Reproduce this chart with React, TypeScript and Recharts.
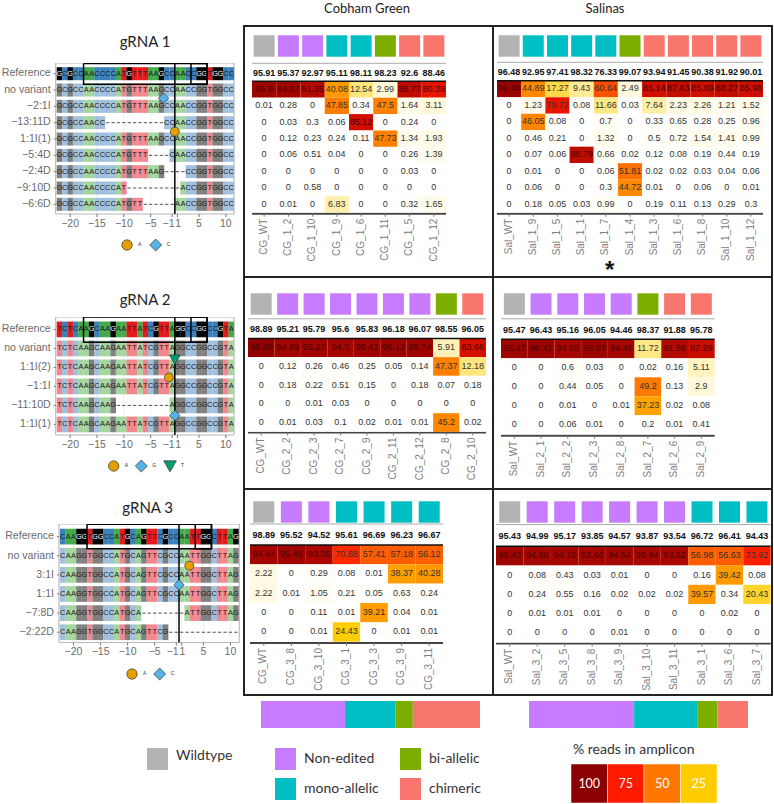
import {
  ScatterChart,
  Scatter,
  XAxis,
  YAxis,
  ReferenceLine,
  ReferenceArea,
  CartesianGrid,
  BarChart,
  Bar,
  LabelList,
} from 'recharts';

// ---- colours
const KIND_COLOR: { [k: string]: string } = {
  wt: '#b3b3b3',
  ne: '#c77cff',
  mono: '#00bfc4',
  bi: '#7cae00',
  chim: '#f8766d',
};
const BASE_REF: { [k: string]: string } = { A: '#45aa4c', C: '#3a80ba', G: '#000000', T: '#e41a1c' };
const BASE_ALT: { [k: string]: string } = { A: '#a5d6a0', C: '#a0c0de', G: '#808080', T: '#f2888f' };
const HEAT_STOPS: [number, number[]][] = [
  [0, [255, 255, 255]],
  [1, [255, 253, 242]],
  [5, [255, 243, 192]],
  [12, [255, 230, 128]],
  [25, [255, 204, 0]],
  [50, [255, 119, 0]],
  [75, [255, 26, 0]],
  [100, [139, 0, 0]],
];

// ---- gRNA 1
const g1Ref = 'GCGCCAACCCCATGTTTAAGCCAACCGGTGGCC';
const g1Labels = ['Reference', 'no variant', '−2:1I', '−13:11D', '1:1I(1)', '−5:4D', '−2:4D', '−9:10D', '−6:6D'];
const g1Seqs = [
  g1Ref,
  g1Ref,
  g1Ref,
  'GCGCCAACC-----------CCAACCGGTGGCC',
  g1Ref,
  'GCGCCAACCCCATGTTT----CAACCGGTGGCC',
  'GCGCCAACCCCATGTTTAAG----CCGGTGGCC',
  'GCGCCAACCCCAT----------ACCGGTGGCC',
  'GCGCCAACCCCATGTT------AACCGGTGGCC',
];
const g1Ins = [
  { col: 19.4, row: 1.5, base: 'C' },
  { col: 21.5, row: 3.55, base: 'A' },
];
const g1Keys = ['A', 'C'];

const cg1Samples = ['CG_WT', 'CG_1_2', 'CG_1_10', 'CG_1_9', 'CG_1_6', 'CG_1_11', 'CG_1_5', 'CG_1_12'];
const cg1Kinds = ['wt', 'ne', 'ne', 'mono', 'mono', 'bi', 'chim', 'chim'];
const cg1Totals = [95.91, 95.37, 92.97, 95.11, 98.11, 98.23, 92.6, 88.46];
const cg1Values = [
  [95.9, 94.87, 91.35, 40.08, 12.54, 2.99, 88.77, 80.38],
  [0.01, 0.28, 0, 47.85, 0.34, 47.5, 1.64, 3.11],
  [0, 0.03, 0.3, 0.06, 85.12, 0, 0.24, 0],
  [0, 0.12, 0.23, 0.24, 0.11, 47.73, 1.34, 1.93],
  [0, 0.06, 0.51, 0.04, 0, 0, 0.26, 1.39],
  [0, 0, 0, 0, 0, 0, 0.03, 0],
  [0, 0, 0.58, 0, 0, 0, 0, 0],
  [0, 0.01, 0, 6.83, 0, 0, 0.32, 1.65],
];

const sal1Samples = ['Sal_WT', 'Sal_1_9', 'Sal_1_5', 'Sal_1_1', 'Sal_1_7', 'Sal_1_4', 'Sal_1_3', 'Sal_1_6', 'Sal_1_8', 'Sal_1_10', 'Sal_1_12'];
const sal1Kinds = ['wt', 'mono', 'mono', 'mono', 'mono', 'bi', 'chim', 'chim', 'chim', 'chim', 'chim'];
const sal1Totals = [96.48, 92.95, 97.41, 98.32, 76.33, 99.07, 93.94, 91.45, 90.38, 91.92, 90.01];
const sal1Values = [
  [96.48, 44.89, 17.27, 9.43, 60.64, 2.49, 85.14, 87.63, 85.89, 88.27, 85.98],
  [0, 1.23, 79.72, 0.08, 11.66, 0.03, 7.64, 2.23, 2.26, 1.21, 1.52],
  [0, 46.05, 0.08, 0, 0.7, 0, 0.33, 0.65, 0.28, 0.25, 0.96],
  [0, 0.46, 0.21, 0, 1.32, 0, 0.5, 0.72, 1.54, 1.41, 0.99],
  [0, 0.07, 0.06, 88.78, 0.66, 0.02, 0.12, 0.08, 0.19, 0.44, 0.19],
  [0, 0.01, 0, 0, 0.06, 51.81, 0.02, 0.02, 0.03, 0.04, 0.06],
  [0, 0.06, 0, 0, 0.3, 44.72, 0.01, 0, 0.06, 0, 0.01],
  [0, 0.18, 0.05, 0.03, 0.99, 0, 0.19, 0.11, 0.13, 0.29, 0.3],
];

// ---- gRNA 2
const g2Ref = 'TCTCAAGCAAGAATTATCGTTAGGCCGGCCGTA';
const g2Labels = ['Reference', 'no variant', '1:1I(2)', '−1:1I', '−11:10D', '1:1I(1)'];
const g2Seqs = [g2Ref, g2Ref, g2Ref, g2Ref, 'TCTCAAGCAAG----------AGGCCGGCCGTA', g2Ref];
const g2Ins = [
  { col: 21.5, row: 1.58, base: 'T' },
  { col: 20.4, row: 2.53, base: 'A' },
  { col: 21.5, row: 4.53, base: 'G' },
];
const g2Keys = ['A', 'G', 'T'];

const cg2Samples = ['CG_WT', 'CG_2_2', 'CG_2_3', 'CG_2_7', 'CG_2_9', 'CG_2_11', 'CG_2_12', 'CG_2_8', 'CG_2_10'];
const cg2Kinds = ['wt', 'ne', 'ne', 'ne', 'ne', 'ne', 'ne', 'bi', 'chim'];
const cg2Totals = [98.89, 95.21, 95.79, 95.6, 95.83, 96.18, 96.07, 98.55, 96.05];
const cg2Values = [
  [98.89, 94.89, 95.27, 94.5, 95.41, 96.12, 95.74, 5.91, 83.66],
  [0, 0.12, 0.26, 0.46, 0.25, 0.05, 0.14, 47.37, 12.18],
  [0, 0.18, 0.22, 0.51, 0.15, 0, 0.18, 0.07, 0.18],
  [0, 0, 0.01, 0.03, 0, 0, 0, 0, 0],
  [0, 0.01, 0.03, 0.1, 0.02, 0.01, 0.01, 45.2, 0.02],
];

const sal2Samples = ['Sal_WT', 'Sal_2_1', 'Sal_2_2', 'Sal_2_3', 'Sal_2_8', 'Sal_2_7', 'Sal_2_6', 'Sal_2_9'];
const sal2Kinds = ['wt', 'ne', 'ne', 'ne', 'ne', 'bi', 'chim', 'chim'];
const sal2Totals = [95.47, 96.43, 95.16, 96.05, 94.46, 98.37, 91.88, 95.78];
const sal2Values = [
  [95.47, 96.42, 94.05, 95.97, 94.45, 11.72, 91.56, 87.29],
  [0, 0, 0.6, 0.03, 0, 0.02, 0.16, 5.11],
  [0, 0, 0.44, 0.05, 0, 49.2, 0.13, 2.9],
  [0, 0, 0.01, 0, 0.01, 37.23, 0.02, 0.08],
  [0, 0, 0.06, 0.01, 0, 0.2, 0.01, 0.41],
];

// ---- gRNA 3
const g3Ref = 'CAAGGTGGCCATGCAGTTCGCCAATTGGCTTAG';
const g3Labels = ['Reference', 'no variant', '3:1I', '1:1I', '−7:8D', '−2:22D'];
const g3Seqs = [
  g3Ref,
  g3Ref,
  g3Ref,
  g3Ref,
  'CAAGGTGGCCATGCA--------ATTGGCTTAG',
  'CAAGGTGGCCATGCAGTTCG-------------',
];
const g3Ins = [
  { col: 23.4, row: 1.52, base: 'A' },
  { col: 21.5, row: 2.53, base: 'C' },
];
const g3Keys = ['A', 'C'];

const cg3Samples = ['CG_WT', 'CG_3_8', 'CG_3_10', 'CG_3_1', 'CG_3_3', 'CG_3_9', 'CG_3_11'];
const cg3Kinds = ['wt', 'ne', 'ne', 'mono', 'mono', 'mono', 'mono'];
const cg3Totals = [98.89, 95.52, 94.52, 95.61, 96.69, 96.23, 96.67];
const cg3Values = [
  [94.44, 95.49, 93.05, 70.88, 57.41, 57.18, 56.12],
  [2.22, 0, 0.29, 0.08, 0.01, 38.37, 40.28],
  [2.22, 0.01, 1.05, 0.21, 0.05, 0.63, 0.24],
  [0, 0, 0.11, 0.01, 39.21, 0.04, 0.01],
  [0, 0, 0.01, 24.43, 0, 0.01, 0.01],
];

const sal3Samples = ['Sal_WT', 'Sal_3_2', 'Sal_3_5', 'Sal_3_8', 'Sal_3_9', 'Sal_3_10', 'Sal_3_11', 'Sal_3_1', 'Sal_3_6', 'Sal_3_7'];
const sal3Kinds = ['wt', 'ne', 'ne', 'ne', 'ne', 'ne', 'ne', 'mono', 'mono', 'mono'];
const sal3Totals = [95.43, 94.99, 95.17, 93.85, 94.57, 93.87, 93.54, 96.72, 96.41, 94.43];
const sal3Values = [
  [95.43, 94.66, 94.19, 93.66, 94.54, 93.84, 93.52, 56.98, 56.63, 73.92],
  [0, 0.08, 0.43, 0.03, 0.01, 0, 0, 0.16, 39.42, 0.08],
  [0, 0.24, 0.55, 0.16, 0.02, 0.02, 0.02, 39.57, 0.34, 20.43],
  [0, 0.01, 0.01, 0.01, 0, 0, 0, 0, 0.02, 0],
  [0, 0, 0, 0, 0.01, 0, 0, 0, 0, 0],
];

// ---- summary bars
const kindOrder = ['ne', 'mono', 'bi', 'chim'];
const cgShares = [38.4, 23, 7.9, 30.7];
const salShares = [48, 28.8, 9.3, 13.9];
const scaleLabels = [100, 75, 50, 25];
const scaleColors = ['#8b0000', '#ff1a00', '#ff7700', '#ffcc00'];

// x ticks of the alignments, position 0 does not exist
const posTicks = [-20, -15, -10, -5, -1, 1, 5, 10];
const posToCol = (p: number) => (p < 0 ? p + 22 : p + 21);

const SANS = '"Liberation Sans", Arial, sans-serif';
const LATO = 'Lato, sans-serif';

function heatColor(v: number) {
  for (let i = 1; i < HEAT_STOPS.length; i++) {
    const [v1, c1] = HEAT_STOPS[i];
    const [v0, c0] = HEAT_STOPS[i - 1];
    if (v <= v1) {
      const t = (v - v0) / (v1 - v0);
      const c = c0.map((x, j) => Math.round(x + (c1[j] - x) * t));
      return `rgb(${c[0]},${c[1]},${c[2]})`;
    }
  }
  return '#8b0000';
}

// reference lines land under the series, so anything on top of the tiles is a point-less line series
const noDot = () => <g />;
const overlay = (pts: number[][], color: string, width: number) => (
  <Scatter
    data={pts.map(([col, row]) => ({ col, row }))}
    line={{ stroke: color, strokeWidth: width }}
    lineType="joint"
    shape={noDot}
    isAnimationActive={false}
  />
);

type HeatProps = {
  x0: number;
  x1: number;
  heatTop: number;
  rowH: number;
  axisY: number;
  totalsY: number;
  swatchY: number;
  lineY: number;
  samples: string[];
  kinds: string[];
  totals: number[];
  values: number[][];
};

const HeatPanel = (p: HeatProps) => {
  const labelRoom = 52;
  const pxTop = p.swatchY - 13;
  const rowOf = (px: number) => (px - p.heatTop) / p.rowH - 0.5;
  const n = p.samples.length;
  const cellW = (p.x1 - p.x0) / n;
  const cells = p.values.flatMap((r, row) => r.map((val, col) => ({ col, row, val })));
  const totals = p.totals.map((val, col) => ({ col, row: rowOf(p.totalsY), val }));
  const swatches = p.kinds.map((kind, col) => ({ col, row: rowOf(p.swatchY), kind }));
  const height = p.axisY - pxTop + labelRoom;
  return (
    <div style={{ position: 'absolute', left: p.x0, top: pxTop }}>
      <ScatterChart
        width={p.x1 - p.x0}
        height={height}
        margin={{ top: 0, right: 0, bottom: 0, left: 0 }}
        style={{ overflow: 'visible' }}
      >
        <XAxis
          type="number"
          dataKey="col"
          domain={[-0.5, n - 0.5]}
          ticks={p.samples.map((_, i) => i)}
          interval={0}
          height={labelRoom}
          axisLine={{ stroke: '#444', strokeWidth: 2 }}
          tickLine={{ stroke: '#777' }}
          tickSize={3}
          tick={(t: any) => (
            <text
              x={t.x}
              y={t.y}
              transform={`rotate(-90 ${t.x} ${t.y})`}
              dominantBaseline="middle"
              textAnchor="end"
              fontSize={10}
              fontFamily={SANS}
              fill="#808080"
            >
              {p.samples[t.payload.value]}
            </text>
          )}
        />
        <YAxis type="number" dataKey="row" hide reversed domain={[rowOf(pxTop), rowOf(p.axisY)]} />
        <ReferenceLine y={rowOf(p.lineY)} stroke="#aaa" strokeWidth={1} />
        <Scatter
          data={swatches}
          isAnimationActive={false}
          shape={(s: any) => (
            <rect x={s.cx - 10.5} y={s.cy - 10.7} width={21} height={21.4} fill={KIND_COLOR[s.payload.kind]} />
          )}
        />
        <Scatter
          data={totals}
          isAnimationActive={false}
          shape={(s: any) => (
            <text
              x={s.cx}
              y={s.cy}
              textAnchor="middle"
              dominantBaseline="middle"
              fontSize={9}
              fontWeight="bold"
              fontFamily={SANS}
              fill="#111"
            >
              {s.payload.val}
            </text>
          )}
        />
        <Scatter
          data={cells}
          isAnimationActive={false}
          shape={(s: any) => (
            <g>
              <rect x={s.cx - cellW / 2} y={s.cy - p.rowH / 2} width={cellW} height={p.rowH} fill={heatColor(s.payload.val)} />
              <text
                x={s.cx}
                y={s.cy}
                textAnchor="middle"
                dominantBaseline="middle"
                fontSize={9}
                fontFamily={SANS}
                fill={s.payload.val > 80 ? '#4a0000' : '#333'}
              >
                {s.payload.val}
              </text>
            </g>
          )}
        />
        {overlay([[-0.5, -0.5], [n - 0.5, -0.5]], '#111', 1.5)}
      </ScatterChart>
    </div>
  );
};

const Marker = ({ cx, cy, base, big }: { cx: number; cy: number; base: string; big?: boolean }) => {
  const stroke = '#333';
  const k = big ? 1.15 : 1;
  if (base === 'A') return <circle cx={cx} cy={cy} r={4.5 * k} fill="#e69f00" stroke={stroke} strokeWidth={0.7} />;
  if (base === 'T') {
    const w = 5.5 * k;
    return <polygon points={`${cx - w},${cy - 4.5 * k} ${cx + w},${cy - 4.5 * k} ${cx},${cy + 5 * k}`} fill="#009e73" stroke={stroke} strokeWidth={0.7} />;
  }
  const d = 5.2 * k;
  return <polygon points={`${cx - d},${cy} ${cx},${cy - d} ${cx + d},${cy} ${cx},${cy + d}`} fill="#56b4e9" stroke={stroke} strokeWidth={0.7} />;
};

type AlignProps = {
  x0: number;
  x1: number;
  top: number;
  bottom: number;
  firstRow: number;
  spacing: number;
  cellLeft: number;
  cellW: number;
  tileH: number;
  labels: string[];
  seqs: string[];
  ins: { col: number; row: number; base: string }[];
  boxRows: number[];
};

const AlignPanel = (p: AlignProps) => {
  const axisH = 20;
  const colOf = (px: number) => (px - p.cellLeft) / p.cellW - 0.5;
  const rowOf = (px: number) => (px - p.firstRow) / p.spacing;
  const xDom = [colOf(p.x0), colOf(p.x1)];
  const yDom = [rowOf(p.top), rowOf(p.bottom)];
  const tiles = p.seqs.flatMap((s, row) => s.split('').map((base, col) => ({ col, row, base })));
  const tickCols = posTicks.map(posToCol);
  const [b0, b1] = p.boxRows;
  const rectPts = (c0: number, c1: number) => [[c0, b0], [c1, b0], [c1, b1], [c0, b1], [c0, b0]];
  return (
    <div style={{ position: 'absolute', left: 0, top: p.top }}>
      <ScatterChart
        width={p.x1 + 1}
        height={p.bottom - p.top + axisH}
        margin={{ top: 0, right: 1, bottom: 0, left: 0 }}
      >
        <CartesianGrid horizontal={false} stroke="#eeeeee" />
        <XAxis
          type="number"
          dataKey="col"
          domain={xDom}
          ticks={tickCols}
          interval={0}
          height={axisH}
          axisLine={false}
          tickLine={{ stroke: '#777' }}
          tickSize={3}
          tick={(t: any) => {
            const pos = posTicks[tickCols.indexOf(t.payload.value)];
            // -1 and 1 sit next to each other, so they grow away from the cut site
            const anchor = pos === -1 ? 'end' : pos === 1 ? 'start' : 'middle';
            const shift = pos === -1 ? 2.4 : pos === 1 ? -2.2 : 0;
            return (
              <text
                x={t.x + shift}
                y={t.y + 5}
                textAnchor={anchor}
                dominantBaseline="middle"
                fontSize={10.5}
                fontFamily={SANS}
                fill="#6b6b6b"
              >
                {String(pos).replace('-', '−')}
              </text>
            );
          }}
        />
        <YAxis
          type="number"
          dataKey="row"
          reversed
          domain={yDom}
          ticks={p.labels.map((_, i) => i)}
          interval={0}
          width={p.x0}
          axisLine={false}
          tickLine={{ stroke: '#777' }}
          tickSize={2}
          tick={(t: any) => (
            <text
              x={t.x - 1}
              y={t.y}
              textAnchor="end"
              dominantBaseline="middle"
              fontSize={10.6}
              fontFamily={SANS}
              fill="#6b6b6b"
            >
              {p.labels[t.payload.value]}
            </text>
          )}
        />
        <ReferenceArea x1={xDom[0]} x2={xDom[1]} y1={yDom[0]} y2={yDom[1]} fill="none" stroke="#b5b5b5" strokeWidth={1} />
        <Scatter
          data={tiles}
          isAnimationActive={false}
          shape={(s: any) => {
            const { base, row } = s.payload;
            if (base === '-') {
              return <line x1={s.cx - 1.6} x2={s.cx + 1.6} y1={s.cy} y2={s.cy} stroke="#222" strokeWidth={0.8} />;
            }
            const isRef = row === 0;
            return (
              <g>
                <rect
                  x={s.cx - p.cellW / 2}
                  y={s.cy - p.tileH / 2}
                  width={p.cellW + 0.2}
                  height={p.tileH}
                  fill={isRef ? BASE_REF[base] : BASE_ALT[base]}
                />
                <text
                  x={s.cx}
                  y={s.cy}
                  textAnchor="middle"
                  dominantBaseline="middle"
                  fontSize={7.4}
                  fontFamily={SANS}
                  fill={isRef && base === 'G' ? '#fff' : '#1a1a1a'}
                >
                  {base}
                </text>
              </g>
            );
          }}
        />
        {overlay(rectPts(4.5, 27.5), '#000', 1.5)}
        {overlay(rectPts(24.5, 27.5), '#000', 1.5)}
        {overlay([[21.5, yDom[0]], [21.5, yDom[1]]], '#000', 1.5)}
        <Scatter
          data={p.ins}
          isAnimationActive={false}
          shape={(s: any) => <Marker cx={s.cx} cy={s.cy} base={s.payload.base} />}
        />
      </ScatterChart>
    </div>
  );
};

const KeyRow = ({ keys, xs, y }: { keys: string[]; xs: number[]; y: number }) => (
  <svg style={{ position: 'absolute', left: 0, top: y - 10 }} width={240} height={20}>
    {keys.map((k, i) => (
      <g key={k}>
        <Marker cx={xs[i]} cy={10} base={k} big />
        <text x={xs[i] + 11} y={10} fontSize={5} fontFamily={SANS} fill="#333" dominantBaseline="middle">
          {k}
        </text>
      </g>
    ))}
  </svg>
);

const Title = ({ text, x, y, size = 15 }: { text: string; x: number; y: number; size?: number }) => (
  <div
    style={{
      position: 'absolute',
      left: x - 80,
      width: 160,
      top: y - 10,
      height: 20,
      lineHeight: '20px',
      textAlign: 'center',
      fontFamily: LATO,
      fontSize: size,
      color: '#222',
    }}
  >
    {text}
  </div>
);

const Rule = ({ x, y, w, h }: { x: number; y: number; w: number; h: number }) => (
  <div style={{ position: 'absolute', left: x, top: y, width: w, height: h, background: '#222' }} />
);

const ShareBar = ({ x, shares }: { x: number; shares: number[] }) => {
  const row = [Object.fromEntries(kindOrder.map((k, i) => [k, shares[i]]))];
  return (
    <div style={{ position: 'absolute', left: x, top: 701 }}>
      <BarChart width={219} height={27} data={row} layout="vertical" barCategoryGap={0} margin={{ top: 0, right: 0, bottom: 0, left: 0 }}>
        <XAxis type="number" hide domain={[0, 100]} />
        <YAxis type="category" hide />
        {kindOrder.map((k) => (
          <Bar key={k} dataKey={k} stackId="s" fill={KIND_COLOR[k]} isAnimationActive={false} />
        ))}
      </BarChart>
    </div>
  );
};

const ScaleBar = () => {
  const row = [Object.fromEntries(scaleLabels.map((l) => ['r' + l, 1]))];
  return (
    <div style={{ position: 'absolute', left: 571, top: 764 }}>
      <BarChart width={146} height={39} data={row} layout="vertical" barCategoryGap={0} margin={{ top: 0, right: 0, bottom: 0, left: 0 }}>
        <XAxis type="number" hide domain={[0, scaleLabels.length]} />
        <YAxis type="category" hide />
        {scaleLabels.map((l, i) => (
          <Bar key={l} dataKey={'r' + l} stackId="s" fill={scaleColors[i]} stroke="#fff" strokeWidth={0.5} isAnimationActive={false}>
            <LabelList
              position="center"
              formatter={() => String(l)}
              style={{ fill: '#fff', fontSize: 12.5, fontFamily: LATO }}
            />
          </Bar>
        ))}
      </BarChart>
    </div>
  );
};

const LegendItem = ({ x, y, color, label, dy = 0 }: { x: number; y: number; color: string; label: string; dy?: number }) => (
  <>
    <div style={{ position: 'absolute', left: x, top: y, width: 21, height: 22, background: color }} />
    <div style={{ position: 'absolute', left: x + 29, top: y + dy, height: 20, lineHeight: '20px', fontFamily: LATO, fontSize: 14, color: '#333', whiteSpace: 'nowrap' }}>
      {label}
    </div>
  </>
);

export default function App() {
  return (
    <div style={{ position: 'absolute', left: 0, top: 0, width: 774, height: 804, overflow: 'hidden', background: '#fff' }}>
      <Title text="Cobham Green" x={367} y={8} size={13} />
      <Title text="Salinas" x={605} y={8} size={13} />

      <Title text="gRNA 1" x={145} y={41} />
      <AlignPanel x0={55.7} x1={234} top={63.3} bottom={214.3} firstRow={74} spacing={16.33} cellLeft={56.7} cellW={5.37} tileH={13} labels={g1Labels} seqs={g1Seqs} ins={g1Ins} boxRows={[-0.63, 0.65]} />
      <KeyRow keys={g1Keys} xs={[127, 155.7]} y={245} />

      <Title text="gRNA 2" x={145} y={299} />
      <AlignPanel x0={55.7} x1={234} top={317.3} bottom={435.3} firstRow={329.7} spacing={19} cellLeft={56.7} cellW={5.37} tileH={15.7} labels={g2Labels} seqs={g2Seqs} ins={g2Ins} boxRows={[-0.65, 0.67]} />
      <KeyRow keys={g2Keys} xs={[113.7, 141.3, 170]} y={466} />

      <Title text="gRNA 3" x={147.7} y={507} />
      <AlignPanel x0={59} x1={239.3} top={523.7} bottom={642.3} firstRow={536.3} spacing={19.13} cellLeft={60} cellW={5.41} tileH={15.7} labels={g3Labels} seqs={g3Seqs} ins={g3Ins} boxRows={[-0.64, 0.63]} />
      <KeyRow keys={g3Keys} xs={[132, 159.7]} y={673.7} />

      <HeatPanel x0={252} x1={446} heatTop={81.3} rowH={16.4} axisY={213.7} totalsY={73.3} swatchY={46} lineY={63.3} samples={cg1Samples} kinds={cg1Kinds} totals={cg1Totals} values={cg1Values} />
      <HeatPanel x0={497} x1={763} heatTop={80.8} rowH={16.47} axisY={213.7} totalsY={72.7} swatchY={46} lineY={62.3} samples={sal1Samples} kinds={sal1Kinds} totals={sal1Totals} values={sal1Values} />
      <HeatPanel x0={247.7} x1={485.7} heatTop={338} rowH={18.67} axisY={432} totalsY={329.3} swatchY={303.5} lineY={318.3} samples={cg2Samples} kinds={cg2Kinds} totals={cg2Totals} values={cg2Values} />
      <HeatPanel x0={501.3} x1={715} heatTop={338.8} rowH={19} axisY={435.3} totalsY={330} swatchY={303.5} lineY={318.3} samples={sal2Samples} kinds={sal2Kinds} totals={sal2Totals} values={sal2Values} />
      <HeatPanel x0={250} x1={443} heatTop={544.7} rowH={19.33} axisY={642.7} totalsY={535} swatchY={511.7} lineY={523.7} samples={cg3Samples} kinds={cg3Kinds} totals={cg3Totals} values={cg3Values} />
      <HeatPanel x0={496} x1={770.7} heatTop={546} rowH={19.25} axisY={643.3} totalsY={536.3} swatchY={511.7} lineY={524.3} samples={sal3Samples} kinds={sal3Kinds} totals={sal3Totals} values={sal3Values} />

      <div style={{ position: 'absolute', left: 605, top: 258, fontFamily: SANS, fontSize: 24, fontWeight: 'bold', color: '#111', lineHeight: '24px' }}>*</div>

      <Rule x={243} y={25} w={530} h={2} />
      <Rule x={243} y={276} w={530} h={2} />
      <Rule x={243} y={488} w={530} h={2} />
      <Rule x={243} y={694} w={530} h={2} />
      <Rule x={243} y={25} w={2} h={671} />
      <Rule x={492} y={25} w={2} h={671} />
      <Rule x={771} y={25} w={2} h={671} />

      <ShareBar x={261} shares={cgShares} />
      <ShareBar x={529} shares={salShares} />

      <LegendItem x={147} y={748} color={KIND_COLOR.wt} label="Wildtype" dy={-3} />
      <LegendItem x={275} y={748} color={KIND_COLOR.ne} label="Non-edited" />
      <LegendItem x={275} y={778} color={KIND_COLOR.mono} label="mono-allelic" />
      <LegendItem x={400} y={748} color={KIND_COLOR.bi} label="bi-allelic" />
      <LegendItem x={400} y={778} color={KIND_COLOR.chim} label="chimeric" />

      <div style={{ position: 'absolute', left: 573, top: 739, height: 20, lineHeight: '20px', fontFamily: LATO, fontSize: 14, color: '#333', whiteSpace: 'nowrap' }}>
        % reads in amplicon
      </div>
      <ScaleBar />
    </div>
  );
}
